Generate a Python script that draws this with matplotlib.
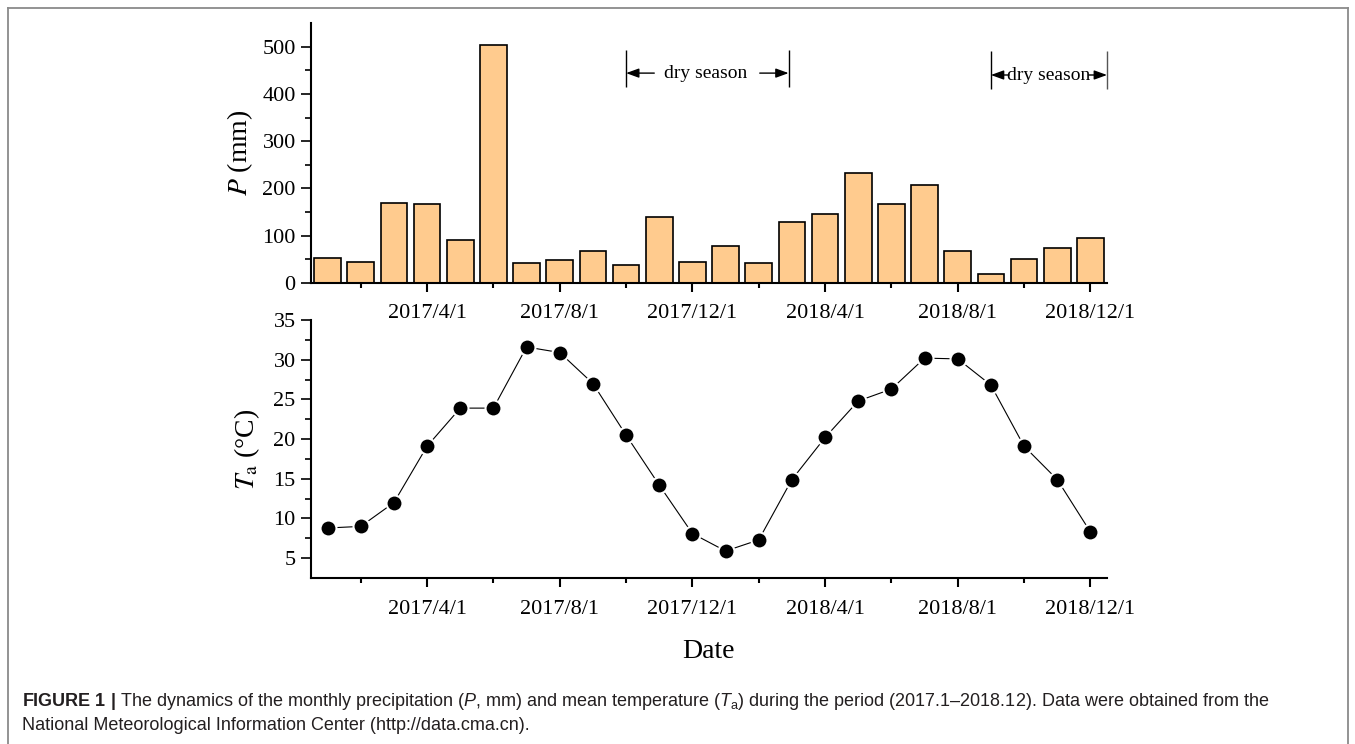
import matplotlib
matplotlib.use("Agg")
import matplotlib.pyplot as plt
from matplotlib.lines import Line2D
import numpy as np

# ---------------- data ----------------
months = list(range(24))  # 2017/1 ... 2018/12 (index 0 = 2017/1)
precip = [52, 44, 170, 168, 92, 503, 42, 49, 67, 38,
          140, 45, 78, 42, 129, 146, 232, 167, 207, 68,
          18, 51, 74, 96]
temp = [8.8, 9.0, 12.0, 19.1, 23.9, 23.9, 31.6, 30.9, 27.0, 20.5,
        14.2, 8.1, 5.9, 7.3, 14.9, 20.2, 24.8, 26.3, 30.2, 30.1,
        26.8, 19.1, 14.9, 8.3]
major_ticks = [3, 7, 11, 15, 19, 23]
minor_ticks = [1, 5, 9, 13, 17, 21]
tick_labels = ["2017/4/1", "2017/8/1", "2017/12/1", "2018/4/1", "2018/8/1", "2018/12/1"]
dry_seasons = [(9, 13.9), (20, 23.5)]
dry_text = ["dry season", "dry season"]

plt.rcParams['font.family'] = ['Liberation Serif', 'DejaVu Serif']
plt.rcParams['mathtext.fontset'] = 'custom'
plt.rcParams['mathtext.rm'] = 'Liberation Sans'
plt.rcParams['mathtext.it'] = 'Liberation Sans:italic'
plt.rcParams['mathtext.bf'] = 'Liberation Sans:bold'

W, H = 1355, 744
fig = plt.figure(figsize=(W / 100, H / 100), dpi=100)

def fx(px):
    return px / W

def fy(py):
    return 1 - py / H

ax1 = fig.add_axes([fx(311), fy(283), fx(1107) - fx(311), fy(23) - fy(283)])
ax2 = fig.add_axes([fx(311), fy(578), fx(1107) - fx(311), fy(320) - fy(578)])

bar_color = '#FFCB8E'

# ---------- top: precipitation ----------
ax1.bar(months, precip, width=0.8, color=bar_color, edgecolor='black', linewidth=1.2, zorder=2)
ax1.set_xlim(-0.5, 23.5)
ax1.set_ylim(0, 550)
ax1.set_yticks([0, 100, 200, 300, 400, 500])
ax1.set_yticks(np.arange(50, 550, 100), minor=True)

# ---------- bottom: temperature ----------
ax2.plot(months, temp, color='black', linewidth=0.8, marker='o', markersize=11.5,
         markerfacecolor='black', markeredgecolor='white', markeredgewidth=1.5, zorder=3,
         clip_on=False)
ax2.set_xlim(-0.5, 23.5)
ax2.set_ylim(2.5, 35)
ax2.set_yticks([5, 10, 15, 20, 25, 30, 35])
ax2.set_yticks(np.arange(7.5, 35, 5), minor=True)

for ax, xpad in ((ax1, 8.5), (ax2, 9.5)):
    ax.set_xticks(major_ticks)
    ax.set_xticklabels(tick_labels)
    ax.set_xticks(minor_ticks, minor=True)
    for s in ('top', 'right'):
        ax.spines[s].set_visible(False)
    for s in ('left', 'bottom'):
        ax.spines[s].set_linewidth(1.5)
    ax.tick_params(axis='x', which='major', direction='out', length=6.5, width=1.5,
                   labelsize=16, pad=xpad)
    ax.tick_params(axis='x', which='minor', direction='out', length=3.6, width=1.5)
    ax.tick_params(axis='y', which='major', direction='out', length=7, width=1.2,
                   labelsize=16, pad=4)
    ax.tick_params(axis='y', which='minor', direction='out', length=4, width=1.2)

ax1.set_ylabel("$P$ (mm)", fontsize=20, math_fontfamily='stix', ha='center', va='center')
ax1.yaxis.set_label_coords(-0.089, 0.5)
ax2.set_ylabel(r"$T_\mathrm{a}$ (°C)", fontsize=20, math_fontfamily='stix', ha='center', va='center')
ax2.yaxis.set_label_coords(-0.080, 0.5)

fig.text(fx(708), fy(651), "Date", fontsize=20, ha='center', va='center')

# ---------- dry-season annotations ----------
arrow_kw = dict(arrowstyle='-|>,head_length=0.55,head_width=0.2', color='black', lw=1.0,
                shrinkA=0, shrinkB=0, mutation_scale=14)
# first
x0, x1 = dry_seasons[0]
ya = 444
ax1.vlines([x0, x1], 414, 493, color='black', linewidth=1.0, clip_on=False)
ax1.annotate("", xy=(x0, ya), xytext=(x0 + 0.85, ya), arrowprops=arrow_kw, annotation_clip=False)
ax1.annotate("", xy=(x1, ya), xytext=(x1 - 0.87, ya), arrowprops=arrow_kw, annotation_clip=False)
ax1.text((x0 + x1) / 2 - 0.05, ya, dry_text[0], fontsize=14, ha='center', va='center')
# second
x0, x1 = dry_seasons[1]
ya2 = 440
ax1.vlines([x0], 410, 490, color='black', linewidth=1.0, clip_on=False)
ax1.vlines([x1], 410, 490, color='#555555', linewidth=1.0, clip_on=False)
ax1.annotate("", xy=(x0, ya2), xytext=(x0 + 0.55, ya2), arrowprops=arrow_kw, annotation_clip=False)
ax1.annotate("", xy=(x1, ya2), xytext=(x1 - 0.55, ya2), arrowprops=arrow_kw, annotation_clip=False)
ax1.text((x0 + x1) / 2, ya2, dry_text[1], fontsize=14, ha='center', va='center')

# ---------- frame lines ----------
frame_c = '#8a8a8a'
fig.add_artist(Line2D([fx(8), fx(8)], [0, fy(8)], color=frame_c, lw=1.3, transform=fig.transFigure))
fig.add_artist(Line2D([fx(8), fx(1348)], [fy(8), fy(8)], color=frame_c, lw=1.3, transform=fig.transFigure))
fig.add_artist(Line2D([fx(1348), fx(1348)], [0, fy(8)], color=frame_c, lw=1.3, transform=fig.transFigure))

# ---------- caption ----------
cap1 = (r"$\mathbf{FIGURE\ 1\ |}$ The dynamics of the monthly precipitation ($P$, mm) and mean "
        r"temperature ($T_\mathrm{a}$) during the period (2017.1–2018.12). Data were obtained from the")
cap2 = "National Meteorological Information Center (http://data.cma.cn)."
fig.text(fx(22), fy(702), cap1, fontsize=13, family='Liberation Sans', color='#231f20',
         ha='left', va='center', math_fontfamily='custom')
fig.text(fx(22), fy(725), cap2, fontsize=13, family='Liberation Sans', color='#231f20',
         ha='left', va='center')

fig.savefig("out.png", dpi=100)
